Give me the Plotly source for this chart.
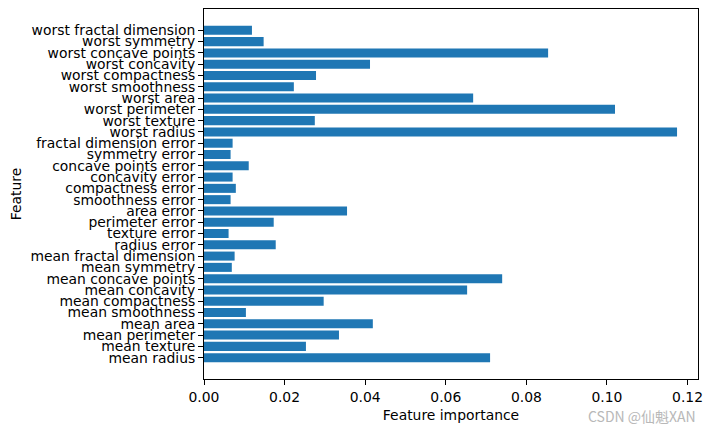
import plotly.graph_objects as go

features = [
    "mean radius", "mean texture", "mean perimeter", "mean area", "mean smoothness",
    "mean compactness", "mean concavity", "mean concave points", "mean symmetry",
    "mean fractal dimension", "radius error", "texture error", "perimeter error",
    "area error", "smoothness error", "compactness error", "concavity error",
    "concave points error", "symmetry error", "fractal dimension error",
    "worst radius", "worst texture", "worst perimeter", "worst area",
    "worst smoothness", "worst compactness", "worst concavity",
    "worst concave points", "worst symmetry", "worst fractal dimension",
]
importances = [
    0.0710, 0.0253, 0.0335, 0.0419, 0.0104,
    0.0297, 0.0653, 0.0740, 0.0069, 0.0076,
    0.0178, 0.0061, 0.0173, 0.0355, 0.0066,
    0.0079, 0.0071, 0.0111, 0.0066, 0.0071,
    0.1174, 0.0275, 0.1020, 0.0668, 0.0223,
    0.0278, 0.0412, 0.0854, 0.0148, 0.0119,
]
x_ticks = [0.00, 0.02, 0.04, 0.06, 0.08, 0.10, 0.12]
x_tick_labels = ["0.00", "0.02", "0.04", "0.06", "0.08", "0.10", "0.12"]

positions = list(range(len(features)))
font_family = "DejaVu Sans"
fs = 13.9

fig = go.Figure(
    go.Bar(
        x=importances,
        y=positions,
        orientation="h",
        width=0.8,
        marker=dict(color="#1f77b4", line=dict(width=0)),
    )
)

fig.update_layout(
    width=715,
    height=432,
    margin=dict(l=196, r=25, t=1, b=61, autoexpand=False),
    paper_bgcolor="white",
    plot_bgcolor="white",
    font=dict(family=font_family, size=fs, color="#000000"),
    showlegend=False,
    annotations=[
        dict(
            text="CSDN @仙魁XAN",
            xref="paper", yref="paper",
            x=1.0, y=-0.1,
            xanchor="right", yanchor="middle",
            showarrow=False,
            font=dict(family="Noto Sans CJK SC", size=14, color="#b8b8b8"),
        )
    ],
)

fig.update_xaxes(
    range=[0, 0.1226],
    tickmode="array",
    tickvals=x_ticks,
    ticktext=x_tick_labels,
    ticks="outside",
    ticklen=5,
    tickwidth=1,
    tickcolor="black",
    showline=True,
    linecolor="black",
    linewidth=1,
    mirror=True,
    showgrid=False,
    zeroline=False,
    automargin=False,
    title=dict(text="Feature importance", font=dict(size=fs), standoff=6),
    tickfont=dict(size=fs),
)
fig.update_yaxes(
    range=[-1.89, 30.89],
    tickmode="array",
    tickvals=positions,
    ticktext=features,
    ticks="outside",
    ticklen=5,
    tickwidth=1,
    tickcolor="black",
    showline=True,
    linecolor="black",
    linewidth=1,
    mirror=True,
    showgrid=False,
    zeroline=False,
    automargin=False,
    title=dict(text="Feature", font=dict(size=fs), standoff=7),
    tickfont=dict(size=fs),
)

fig.write_html("out.html")
